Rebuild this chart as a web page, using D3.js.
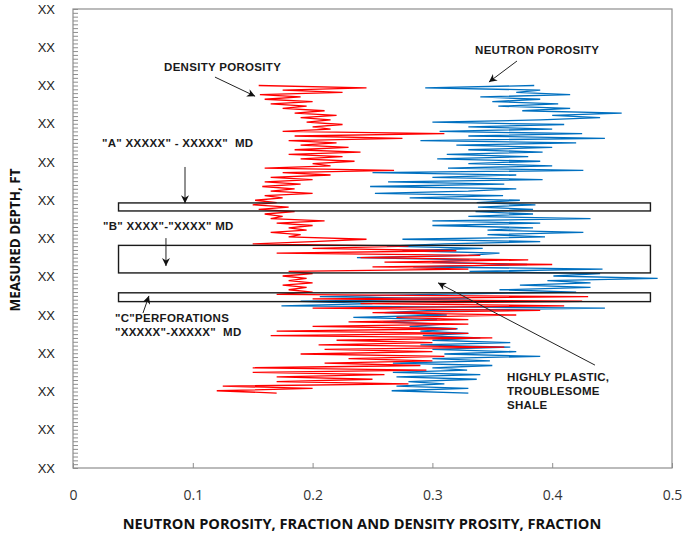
<!DOCTYPE html>
<html>
<head>
<meta charset="utf-8">
<script src="https://cdn.jsdelivr.net/npm/d3@7"></script>
<style>
  html, body { margin: 0; padding: 0; background: #fff; }
  svg { display: block; }
  .x-label { font-family: 'Open Sans', sans-serif; font-size: 14px; fill: #333; }
  .y-label { font-family: 'Liberation Sans', Arial, sans-serif; font-size: 13px; fill: #222; }
  .note { font-family: 'Liberation Sans', Arial, sans-serif; font-size: 11.5px; font-weight: bold; fill: #1a1a1a; letter-spacing: 0.3px; white-space: pre; }
  .title { font-family: 'Open Sans', sans-serif; font-weight: bold; fill: #111; }
</style>
</head>
<body>
<div id="chart"></div>
<script>
// depth samples, ft below top of plotted section
const depthFt = [
  200, 206, 212, 218, 224, 230, 236, 242, 248, 254,
  260, 266, 272, 278, 284, 290, 296, 302, 308, 314,
  320, 326, 332, 338, 344, 350, 356, 362, 368, 374,
  380, 386, 392, 398, 404, 410, 416, 422, 428, 434,
  440, 446, 452, 458, 464, 470, 476, 482, 488, 494,
  500, 506, 512, 518, 524, 530, 536, 542, 548, 554,
  560, 566, 572, 578, 584, 590, 596, 602, 608, 614,
  620, 626, 632, 638, 644, 650, 656, 662, 668, 674,
  680, 686, 692, 698, 704, 710, 716, 722, 728, 734,
  740, 746, 752, 758, 764, 770, 776, 782, 788, 794,
  800, 806, 812, 818, 824, 830, 836, 842, 848, 854,
  860, 866, 872, 878, 884, 890, 896, 902, 908, 914,
  920, 926, 932, 938, 944, 950, 956, 962, 968, 974,
  980, 986, 992, 998, 1004
]

// density porosity, fraction
const densityPorosity = [
  0.155, 0.245, 0.175, 0.225, 0.156, 0.19, 0.16, 0.2, 0.165, 0.195,
  0.175, 0.21, 0.185, 0.22, 0.19, 0.215, 0.195, 0.225, 0.2, 0.215,
  0.175, 0.31, 0.185, 0.275, 0.18, 0.22, 0.19, 0.23, 0.185, 0.24,
  0.18, 0.225, 0.19, 0.235, 0.2, 0.215, 0.16, 0.268, 0.175, 0.215,
  0.165, 0.2, 0.16, 0.19, 0.158, 0.185, 0.165, 0.2, 0.16, 0.175,
  0.152, 0.17, 0.15, 0.18, 0.155, 0.185, 0.16, 0.175, 0.165, 0.21,
  0.17, 0.2, 0.18, 0.195, 0.165, 0.19, 0.18, 0.245, 0.2, 0.15,
  0.28, 0.2, 0.32, 0.17, 0.34, 0.24, 0.38, 0.26, 0.4, 0.25,
  0.33, 0.18, 0.2, 0.175, 0.195, 0.18, 0.2, 0.175, 0.195, 0.18,
  0.2, 0.17, 0.43, 0.2, 0.425, 0.24, 0.41, 0.2, 0.39, 0.25,
  0.37, 0.27, 0.33, 0.23, 0.33, 0.2, 0.32, 0.17, 0.33, 0.165,
  0.35, 0.22, 0.3, 0.205, 0.36, 0.21, 0.3, 0.19, 0.31, 0.23,
  0.3, 0.21, 0.29, 0.15, 0.295, 0.15, 0.26, 0.17, 0.25, 0.17,
  0.28, 0.125, 0.2, 0.12, 0.17
]

// neutron porosity, fraction
const neutronPorosity = [
  0.385, 0.294, 0.39, 0.37, 0.415, 0.34, 0.39, 0.35, 0.405, 0.355,
  0.415, 0.375, 0.458, 0.4, 0.44, 0.39, 0.3, 0.41, 0.33, 0.4,
  0.306, 0.425, 0.33, 0.444, 0.29, 0.42, 0.32, 0.4, 0.33, 0.392,
  0.312, 0.38, 0.304, 0.39, 0.33, 0.4, 0.313, 0.426, 0.25, 0.37,
  0.3, 0.392, 0.263, 0.36, 0.248, 0.37, 0.33, 0.252, 0.359, 0.281,
  0.373, 0.337, 0.386, 0.338, 0.384, 0.336, 0.384, 0.33, 0.432, 0.3,
  0.39, 0.3, 0.384, 0.346, 0.426, 0.346, 0.394, 0.275, 0.39, 0.31,
  0.262, 0.342, 0.275, 0.356, 0.33, 0.237, 0.331, 0.3, 0.379, 0.284,
  0.442, 0.331, 0.44, 0.401, 0.488, 0.396, 0.432, 0.373, 0.432, 0.356,
  0.42, 0.3, 0.206, 0.33, 0.19, 0.25, 0.174, 0.444, 0.3, 0.26,
  0.312, 0.234, 0.304, 0.259, 0.31, 0.281, 0.321, 0.29, 0.33, 0.292,
  0.34, 0.3, 0.365, 0.29, 0.365, 0.3, 0.37, 0.31, 0.39, 0.3,
  0.348, 0.267, 0.35, 0.3, 0.329, 0.267, 0.34, 0.27, 0.337, 0.28,
  0.31, 0.27, 0.33, 0.266, 0.33
]

const xTicks = [0, 0.1, 0.2, 0.3, 0.4, 0.5]
const yTicks = [0, 100, 200, 300, 400, 500, 600, 700, 800, 900, 1000, 1100, 1200]
const yTickLabels = ['XX', 'XX', 'XX', 'XX', 'XX', 'XX', 'XX', 'XX', 'XX', 'XX', 'XX', 'XX', 'XX']

// marked intervals A, B, C (top / base depth) and their porosity span
const intervalTop = [507, 618, 742]
const intervalBase = [528, 690, 765]
const intervalSpan = [0.038, 0.482]

// callouts: text lines anchored at [porosity, depth]
const noteText = [
  ['DENSITY POROSITY'],
  ['NEUTRON POROSITY'],
  ['"A" XXXXX" - XXXXX"  MD'],
  ['"B" XXXX"-"XXXX" MD'],
  ['"C"PERFORATIONS', '"XXXXX"-XXXXX"  MD'],
  ['HIGHLY PLASTIC,', 'TROUBLESOME', 'SHALE']
]
const noteAt = [[0.076, 162], [0.3356, 117], [0.0242, 361], [0.025, 578], [0.035, 818], [0.3623, 972]]
const arrowFrom = [[0.1185, 178], [0.3706, 136], [0.0935, 413], [0.0776, 599], [0.0584, 795], [0.4357, 931]]
const arrowTo = [[0.152, 228], [0.3472, 191], [0.0935, 508], [0.0776, 672], [0.0634, 750], [0.3047, 716]]

class DepthLogChart {
  defaultSetting () {
    return {
      width: 683,
      height: 537,
      margin: { top: 9, right: 11, bottom: 69, left: 73 },
      axisColor: '#8e8e8e',
      density: { stroke: '#ff0000', width: 1.3 },
      neutron: { stroke: '#0070c0', width: 1.3 }
    }
  }

  constructor (selector, opt) {
    this.config = Object.assign({}, this.defaultSetting(), opt)
    const { width, height, margin } = this.config
    this.svg = d3.select(selector).append('svg')
      .attr('width', width)
      .attr('height', height)
    this.x = d3.scaleLinear().domain([0, 0.5]).range([margin.left, width - margin.right])
    this.y = d3.scaleLinear().domain([0, 1200]).range([margin.top, height - margin.bottom])
  }

  render () {
    this.renderAxes()
    this.renderCurve(neutronPorosity, this.config.neutron)
    this.renderCurve(densityPorosity, this.config.density)
    this.renderIntervals()
    this.renderNotes()
    this.renderTitles()
  }

  renderAxes () {
    const { x, y, svg } = this
    const { axisColor } = this.config
    // frame
    svg.append('rect')
      .attr('x', x(0)).attr('y', y(0))
      .attr('width', x(0.5) - x(0)).attr('height', y(1200) - y(0))
      .attr('fill', 'none').attr('stroke', axisColor).attr('stroke-width', 1.2)

    // minor depth ticks, every 10 ft
    const minor = svg.append('g')
      .attr('transform', `translate(${x(0)},0)`)
      .call(d3.axisLeft(y).tickValues(d3.range(0, 1201, 10)).tickSize(-5).tickFormat(''))
    minor.select('.domain').remove()
    minor.selectAll('line').attr('stroke', axisColor)

    // depth labels
    const left = svg.append('g')
      .attr('transform', `translate(${x(0)},0)`)
      .call(d3.axisLeft(y).tickValues(yTicks).tickSize(0).tickPadding(18)
        .tickFormat((d, i) => yTickLabels[i]))
    left.select('.domain').remove()
    left.selectAll('text').attr('class', 'y-label').attr('font-family', null).attr('font-size', null)

    // porosity axis
    const bottom = svg.append('g')
      .attr('transform', `translate(0,${y(1200)})`)
      .call(d3.axisBottom(x).tickValues(xTicks).tickSize(-5).tickPadding(22)
        .tickFormat(d => d === 0 ? '0' : d3.format('.1f')(d)))
    bottom.select('.domain').remove()
    bottom.selectAll('line').attr('stroke', axisColor)
    bottom.selectAll('text').attr('class', 'x-label').attr('font-family', null).attr('font-size', null)
  }

  renderCurve (values, style) {
    const line = d3.line()
      .x(d => this.x(d[1]))
      .y(d => this.y(d[0]))
    this.svg.append('path')
      .datum(depthFt.map((d, i) => [d, values[i]]))
      .attr('d', line)
      .attr('fill', 'none')
      .attr('stroke', style.stroke)
      .attr('stroke-width', style.width)
      .attr('stroke-linejoin', 'miter')
  }

  renderIntervals () {
    const { x, y } = this
    this.svg.append('g').selectAll('rect')
      .data(intervalTop)
      .join('rect')
      .attr('x', x(intervalSpan[0]))
      .attr('width', x(intervalSpan[1]) - x(intervalSpan[0]))
      .attr('y', d => y(d))
      .attr('height', (d, i) => y(intervalBase[i]) - y(d))
      .attr('fill', 'none')
      .attr('stroke', '#1a1a1a')
      .attr('stroke-width', 1.4)
  }

  renderNotes () {
    const { x, y, svg } = this
    svg.append('defs').append('marker')
      .attr('id', 'head')
      .attr('viewBox', '0 0 10 10')
      .attr('refX', 10).attr('refY', 5)
      .attr('markerUnits', 'userSpaceOnUse')
      .attr('markerWidth', 8).attr('markerHeight', 8)
      .attr('orient', 'auto')
      .append('path')
      .attr('d', 'M0,0L10,5L0,10L3,5Z')
      .attr('fill', '#111')

    svg.append('g').selectAll('line')
      .data(arrowFrom)
      .join('line')
      .attr('x1', d => x(d[0])).attr('y1', d => y(d[1]))
      .attr('x2', (d, i) => x(arrowTo[i][0])).attr('y2', (d, i) => y(arrowTo[i][1]))
      .attr('stroke', '#222')
      .attr('stroke-width', 1)
      .attr('marker-end', 'url(#head)')

    const notes = svg.append('g').selectAll('text')
      .data(noteText)
      .join('text')
      .attr('class', 'note')
      .attr('x', (d, i) => x(noteAt[i][0]))
      .attr('y', (d, i) => y(noteAt[i][1]))
    notes.selectAll('tspan')
      .data(d => d)
      .join('tspan')
      .attr('x', function () { return this.parentNode.getAttribute('x') })
      .attr('dy', (d, i) => i === 0 ? 0 : 14)
      .text(d => d)
  }

  renderTitles () {
    this.svg.append('text')
      .attr('class', 'title')
      .attr('font-size', 14.6)
      .attr('text-anchor', 'middle')
      .attr('x', 362).attr('y', 529)
      .text('NEUTRON POROSITY, FRACTION AND DENSITY PROSITY, FRACTION')
    this.svg.append('text')
      .attr('class', 'title')
      .attr('font-size', 13.4)
      .attr('text-anchor', 'middle')
      .attr('transform', 'translate(20,240) rotate(-90)')
      .text('MEASURED DEPTH, FT')
  }
}

new DepthLogChart('#chart').render()
</script>
</body>
</html>
